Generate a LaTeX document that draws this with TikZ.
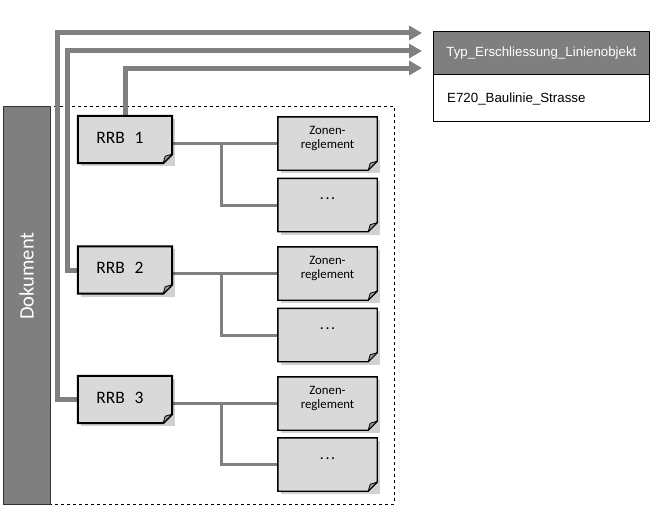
\documentclass[tikz,border=0pt]{standalone}
\usepackage{fontspec}
\setmainfont{Carlito}
\newfontfamily\arialfont{Liberation Sans}
\usetikzlibrary{arrows.meta,calc}
\definecolor{boxgray}{HTML}{D9D9D9}
\definecolor{darkgray}{HTML}{7F7F7F}
\definecolor{linegray}{HTML}{808080}
\tikzset{
  rrbbox/.style={minimum width=94pt,minimum height=47pt,inner sep=0pt},
  zonebox/.style={minimum width=99pt,minimum height=53pt,inner sep=0pt},
  thickconn/.style={draw=linegray,line width=5pt,-{Triangle[length=13pt,width=14pt]}},
  thinconn/.style={draw=linegray,line width=3pt},
}
\newcommand{\dogear}[2]{%
  \fill[black,opacity=0.18] ([xshift=3pt,yshift=-3pt]#1.north west) -- ([xshift=3pt,yshift=-3pt]#1.north east) -- ([xshift=3pt,yshift=-3pt]#1.south east) -- ([xshift=3pt,yshift=-3pt]#1.south west) -- cycle;
  \draw[fill=boxgray,line width=#2] (#1.north west) -- (#1.north east) -- ([yshift=9pt]#1.south east) -- ([xshift=-9pt]#1.south east) -- (#1.south west) -- cycle;
  \draw[fill=boxgray!70!black,line width=0.8pt,line join=round] ([yshift=9pt]#1.south east) -- ([xshift=-9pt]#1.south east) -- ([xshift=-7pt,yshift=7pt]#1.south east) -- cycle;
}
\begin{document}
\begin{tikzpicture}[x=1pt,y=-1pt]
\useasboundingbox (0,0) rectangle (671,519);
% dashed frame
\draw[dashed,line width=0.8pt] (3,106) rectangle (394,504);
% Dokument bar
\node[draw=black!80,line width=1pt,fill=darkgray,minimum width=47pt,minimum height=398pt,inner sep=0pt,anchor=north west] (dok) at (3,106) {};
\node[rotate=90,text=white,font=\fontsize{20.5}{24}\selectfont,inner sep=0pt] (doktext) at (26.5,276) {Dokument};
% Typ box
\node[draw=black,line width=0.8pt,fill=darkgray,minimum width=216pt,minimum height=43pt,inner sep=0pt,anchor=north west,text=white,font=\arialfont\fontsize{13.3}{16}\selectfont] (typ) at (433,31) {Typ\_Erschliessung\_Linienobjekt};
\node[draw=black,line width=0.8pt,fill=white,minimum width=216pt,minimum height=47pt,inner sep=0pt,anchor=north west] (val) at (433,74) {};
\node[anchor=west,font=\arialfont\fontsize{13.3}{16}\selectfont,inner sep=0pt] (valtext) at (447,99) {E720\_Baulinie\_Strasse};
% RRB nodes
\node[rrbbox] (r1) at (125,139.5) {};
\node[rrbbox] (r2) at (125,270) {};
\node[rrbbox] (r3) at (125,399.5) {};
% Zone nodes
\node[zonebox] (z1) at (327.5,143.5) {};
\node[zonebox] (d1) at (327.5,205) {};
\node[zonebox] (z2) at (327.5,273.5) {};
\node[zonebox] (d2) at (327.5,335) {};
\node[zonebox] (z3) at (327.5,403.5) {};
\node[zonebox] (d3) at (327.5,464.5) {};
% coordinates
\coordinate (t1) at (422,33);
\coordinate (t2) at (422,51);
\coordinate (t3) at (422,68);
\coordinate (b1) at (221,143.5);
\coordinate (b2) at (221,273.5);
\coordinate (b3) at (221,403.5);
% thick connectors
\draw[thickconn] (r1.north) |- (t3);
\draw[thickconn] (r2.west) -- (67,270) |- (t2);
\draw[thickconn] (r3.west) -- (57,399.5) |- (t1);
% thin connectors
\foreach \i in {1,2,3}{
  \draw[thinconn] (r\i.east |- z\i.west) -- (z\i.west);
  \draw[thinconn] (b\i) |- (d\i.west);
}
% boxes
\foreach \n in {r1,r2,r3}{\dogear{\n}{2pt}}
\foreach \n in {z1,d1,z2,d2,z3,d3}{\dogear{\n}{1.4pt}}
% texts
\foreach \n/\k in {r1/1,r2/2,r3/3}{
  \node[font=\fontsize{17.5}{20}\selectfont,inner sep=0pt] (lab\n) at ([xshift=-5pt,yshift=2pt]\n.center) {RRB\hspace{0.55em}\k};
}
\foreach \n in {z1,z2,z3}{
  \node[align=center,font=\fontsize{12.8}{13.5}\selectfont,inner sep=0pt] (lab\n) at ([yshift=5pt]\n.center) {Zonen-\\reglement};
}
\foreach \n in {d1,d2,d3}{
  \node[font=\fontsize{13}{14}\selectfont,inner sep=0pt] (lab\n) at ([yshift=6pt]\n.center) {\textbf{.\,.\,.}};
}
\end{tikzpicture}
\end{document}
